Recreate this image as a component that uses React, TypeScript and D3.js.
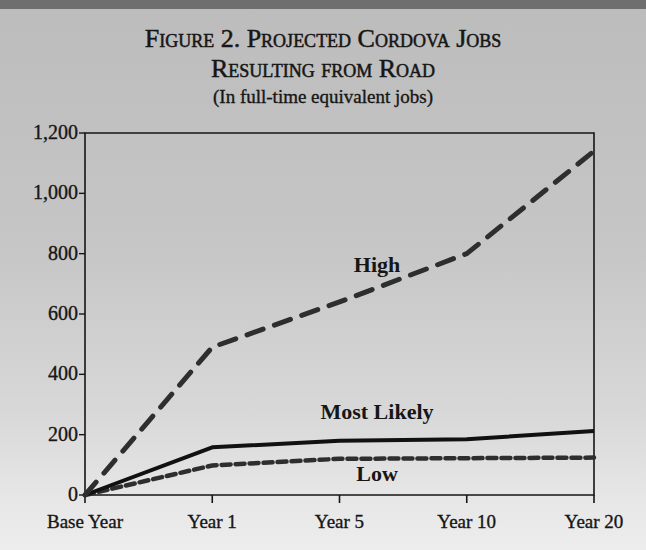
import React from "react";
import * as d3 from "d3";

const categories = ["Base Year", "Year 1", "Year 5", "Year 10", "Year 20"];
const highValues = [0, 490, 640, 800, 1140];
const mostLikelyValues = [0, 158, 180, 185, 212];
const lowValues = [0, 98, 120, 122, 124];
const yTicks = [0, 200, 400, 600, 800, 1000, 1200];
const titleLines = ["Figure 2. Projected Cordova Jobs", "Resulting from Road"];
const subtitle = "(In full-time equivalent jobs)";

const W = 646;
const H = 550;
const left = 85;
const right = 594;
const top = 133;
const bottom = 495;

export default function App() {
  const x = d3.scalePoint<string>().domain(categories).range([left, right]);
  const y = d3.scaleLinear().domain([0, 1200]).range([bottom, top]);
  const line = d3
    .line<number>()
    .x((_, i) => x(categories[i]) as number)
    .y((d) => y(d));
  const fmt = d3.format(",");
  const font = "'Liberation Serif', 'DejaVu Serif', serif";
  const ink = "#161616";

  return (
    <svg
      width={W}
      height={H}
      style={{ position: "fixed", left: 0, top: 0, display: "block" }}
      fontFamily={font}
    >
      <defs>
        <linearGradient id="bg" x1="0" y1="0" x2="0" y2="1">
          <stop offset="0" stopColor="#bcbcbc" />
          <stop offset="0.45" stopColor="#c6c6c6" />
          <stop offset="0.75" stopColor="#d8d8d8" />
          <stop offset="0.9" stopColor="#e6e6e6" />
          <stop offset="1" stopColor="#ededed" />
        </linearGradient>
      </defs>
      <rect x={0} y={0} width={W} height={H} fill="url(#bg)" />
      <rect x={0} y={0} width={W} height={9} fill="#6e6e6e" />

      {/* Title */}
      <g
        textAnchor="middle"
        fill={ink}
        stroke={ink}
        strokeWidth={0.5}
        style={{ fontVariant: "small-caps" }}
      >
        <text x={323} y={47} fontSize={26}>{titleLines[0]}</text>
        <text x={323} y={77} fontSize={26}>{titleLines[1]}</text>
      </g>
      <text
        x={323}
        y={103}
        fontSize={19}
        textAnchor="middle"
        fill={ink}
        stroke={ink}
        strokeWidth={0.35}
      >
        {subtitle}
      </text>

      {/* Frame */}
      <path
        d={`M${left},${top}H${right}V${bottom}H${left}Z`}
        fill="none"
        stroke={ink}
        strokeWidth={1.6}
      />

      {/* Y axis ticks */}
      {yTicks.map((t) => (
        <g key={t}>
          <line x1={left - 6} x2={left} y1={y(t)} y2={y(t)} stroke={ink} strokeWidth={1.4} />
          <text
            x={left - 7}
            y={y(t) + 6}
            fontSize={20}
            textAnchor="end"
            fill={ink}
            stroke={ink}
            strokeWidth={0.35}
          >
            {fmt(t)}
          </text>
        </g>
      ))}

      {/* X axis ticks */}
      {categories.map((c) => (
        <g key={c}>
          <line
            x1={x(c) as number}
            x2={x(c) as number}
            y1={bottom}
            y2={bottom + 8}
            stroke={ink}
            strokeWidth={1.6}
          />
          <text
            x={x(c) as number}
            y={528}
            fontSize={19}
            textAnchor="middle"
            fill={ink}
            stroke={ink}
            strokeWidth={0.35}
          >
            {c}
          </text>
        </g>
      ))}

      {/* Series */}
      <path
        d={line(lowValues) || ""}
        fill="none"
        stroke="#2e2e2e"
        strokeWidth={4.5}
        strokeDasharray="9 5"
        strokeLinecap="round"
      />
      <path
        d={line(mostLikelyValues) || ""}
        fill="none"
        stroke="#111"
        strokeWidth={4}
        strokeLinejoin="round"
      />
      <path
        d={line(highValues) || ""}
        fill="none"
        stroke="#2e2e2e"
        strokeWidth={5}
        strokeDasharray="17 12"
        strokeLinecap="round"
      />

      {/* Series labels */}
      <g fontSize={22} fontWeight="bold" fill={ink} textAnchor="middle">
        <text x={377} y={272}>High</text>
        <text x={377} y={419}>Most Likely</text>
        <text x={377} y={481}>Low</text>
      </g>
    </svg>
  );
}
